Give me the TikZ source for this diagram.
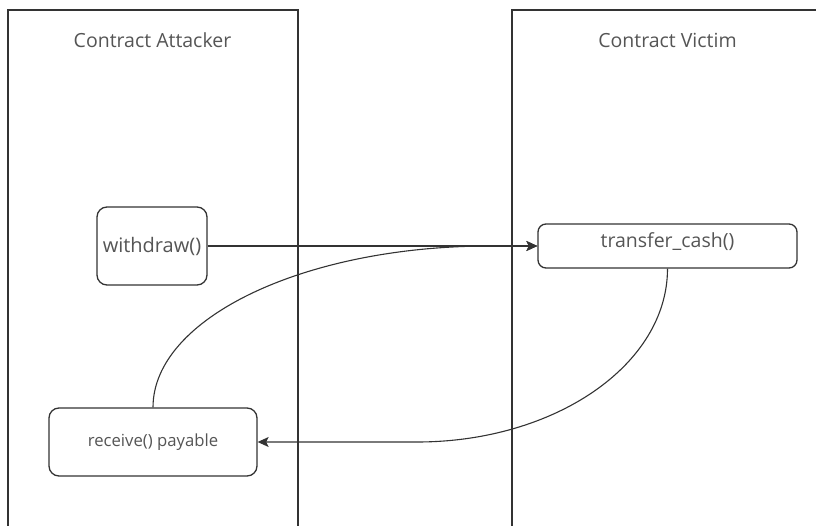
\documentclass[tikz,border=0pt]{standalone}
\usepackage{fontspec}
\setmainfont{Open Sans}
\usetikzlibrary{arrows.meta}
\definecolor{linegray}{HTML}{333333}
\definecolor{textgray}{HTML}{555555}
\tikzset{
  lane/.style={draw=linegray, line width=1.3pt},
  lanetitle/.style={text=textgray, font=\fontsize{19.5}{22}\selectfont, inner sep=0pt},
  fnbox/.style={draw=linegray, line width=1.3pt, rounded corners=10pt, fill=white,
    text=textgray, align=center, inner sep=0pt},
  flow/.style={draw=linegray, line width=1.1pt,
    -{Stealth[length=11pt, width=10pt, inset=2.5pt]}}
}
\begin{document}
\begin{tikzpicture}[x=1pt, y=-1pt]
  \useasboundingbox (0,0) rectangle (816,526);
  \fill[white] (0,0) rectangle (816,526);

  % swimlanes, open at the bottom (and at the right for the victim)
  \draw[lane] (8,532) -- (8,10) -- (298,10) -- (298,532);
  \draw[lane] (512,532) -- (512,10) -- (822,10);
  \node[lanetitle] (attT) at (152.5,40) {Contract Attacker};
  \node[lanetitle] (vicT) at (667.5,40) {Contract Victim};

  % functions
  \node[fnbox, minimum width=110pt, minimum height=78pt,
        font=\fontsize{20}{22}\selectfont] (w) at (152,246) {withdraw()};
  \node[fnbox, minimum width=259pt, minimum height=44pt, rounded corners=8pt,
        font=\fontsize{19.5}{22}\selectfont] (t) at (667.5,246) {};
  \node[text=textgray, font=\fontsize{19.5}{22}\selectfont, inner sep=0pt]
        (tl) at (667.5,242) {transfer\_cash()};
  \node[fnbox, minimum width=208pt, minimum height=68pt,
        font=\fontsize{16.7}{20}\selectfont] (r) at (153,442) {receive() payable};

  % calls
  \draw[flow] (w.east) -- (t.west);
  \draw[flow] (r.north) .. controls ([yshift=89pt]r.north) and (304,246) .. (490,246) -- (t.west);
  \draw[flow] (t.south) .. controls ([yshift=-96pt]t.south) and (555,442) .. (417,442) -- (r.east);
\end{tikzpicture}
\end{document}
